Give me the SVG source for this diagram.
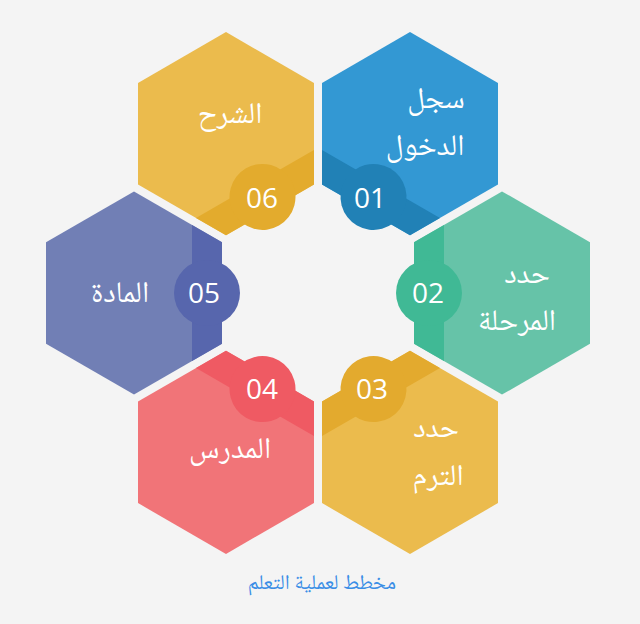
<svg xmlns="http://www.w3.org/2000/svg" width="640" height="624" viewBox="0 0 640 624">
<defs>
<style>
.lbl{font-family:"Noto Naskh Arabic","DejaVu Sans",sans-serif;font-size:30px;fill:#ffffff;text-anchor:middle}
.num{font-family:"Open Sans","Liberation Sans",sans-serif;font-size:28px;fill:#ffffff;text-anchor:middle}
.cap{font-family:"Noto Naskh Arabic","DejaVu Sans",sans-serif;font-size:21px;fill:#3a8ee6;text-anchor:middle}
</style>
<polygon id="hex" points="0,-101.6 88,-50.8 88,50.8 0,101.6 -88,50.8 -88,-50.8"/>
<g id="dark">
<polygon points="58,-68.1 88,-50.8 88,50.8 58,68.1"/>
<circle cx="73" cy="0" r="33"/>
</g>
</defs>
<rect width="640" height="624" fill="#f4f4f4"/>
<g id="connectors"/>
<g id="node01">
<g transform="translate(410,133.7) rotate(120)"><use href="#hex" fill="#3398d3"/><use href="#dark" fill="#2181b6"/></g>
<text class="lbl" x="436" y="108">سجل</text>
<text class="lbl" x="425" y="155">الدخول</text>
<text class="num" x="370" y="208">01</text>
</g>
<g id="node02">
<g transform="translate(502,293) rotate(180)"><use href="#hex" fill="#66c3a8"/><use href="#dark" fill="#40b995"/></g>
<text class="lbl" x="527" y="283">حدد</text>
<text class="lbl" x="517" y="330">المرحلة</text>
<text class="num" x="428" y="303">02</text>
</g>
<g id="node03">
<g transform="translate(410,452.3) rotate(240)"><use href="#hex" fill="#ebbb4d"/><use href="#dark" fill="#e3aa2e"/></g>
<text class="lbl" x="436" y="437">حدد</text>
<text class="lbl" x="438" y="485">الترم</text>
<text class="num" x="372" y="399">03</text>
</g>
<g id="node04">
<g transform="translate(226,452.3) rotate(300)"><use href="#hex" fill="#f17478"/><use href="#dark" fill="#ef5a63"/></g>
<text class="lbl" x="230" y="458">المدرس</text>
<text class="num" x="262" y="399">04</text>
</g>
<g id="node05">
<g transform="translate(134,293)"><use href="#hex" fill="#717fb5"/><use href="#dark" fill="#5766ad"/></g>
<text class="lbl" x="120" y="302">المادة</text>
<text class="num" x="204" y="303">05</text>
</g>
<g id="node06">
<g transform="translate(226,133.7) rotate(60)"><use href="#hex" fill="#ebbb4d"/><use href="#dark" fill="#e3ab2d"/></g>
<text class="lbl" x="230" y="123">الشرح</text>
<text class="num" x="262" y="208">06</text>
</g>
<text class="cap" x="322" y="589">مخطط لعملية التعلم</text>
</svg>
